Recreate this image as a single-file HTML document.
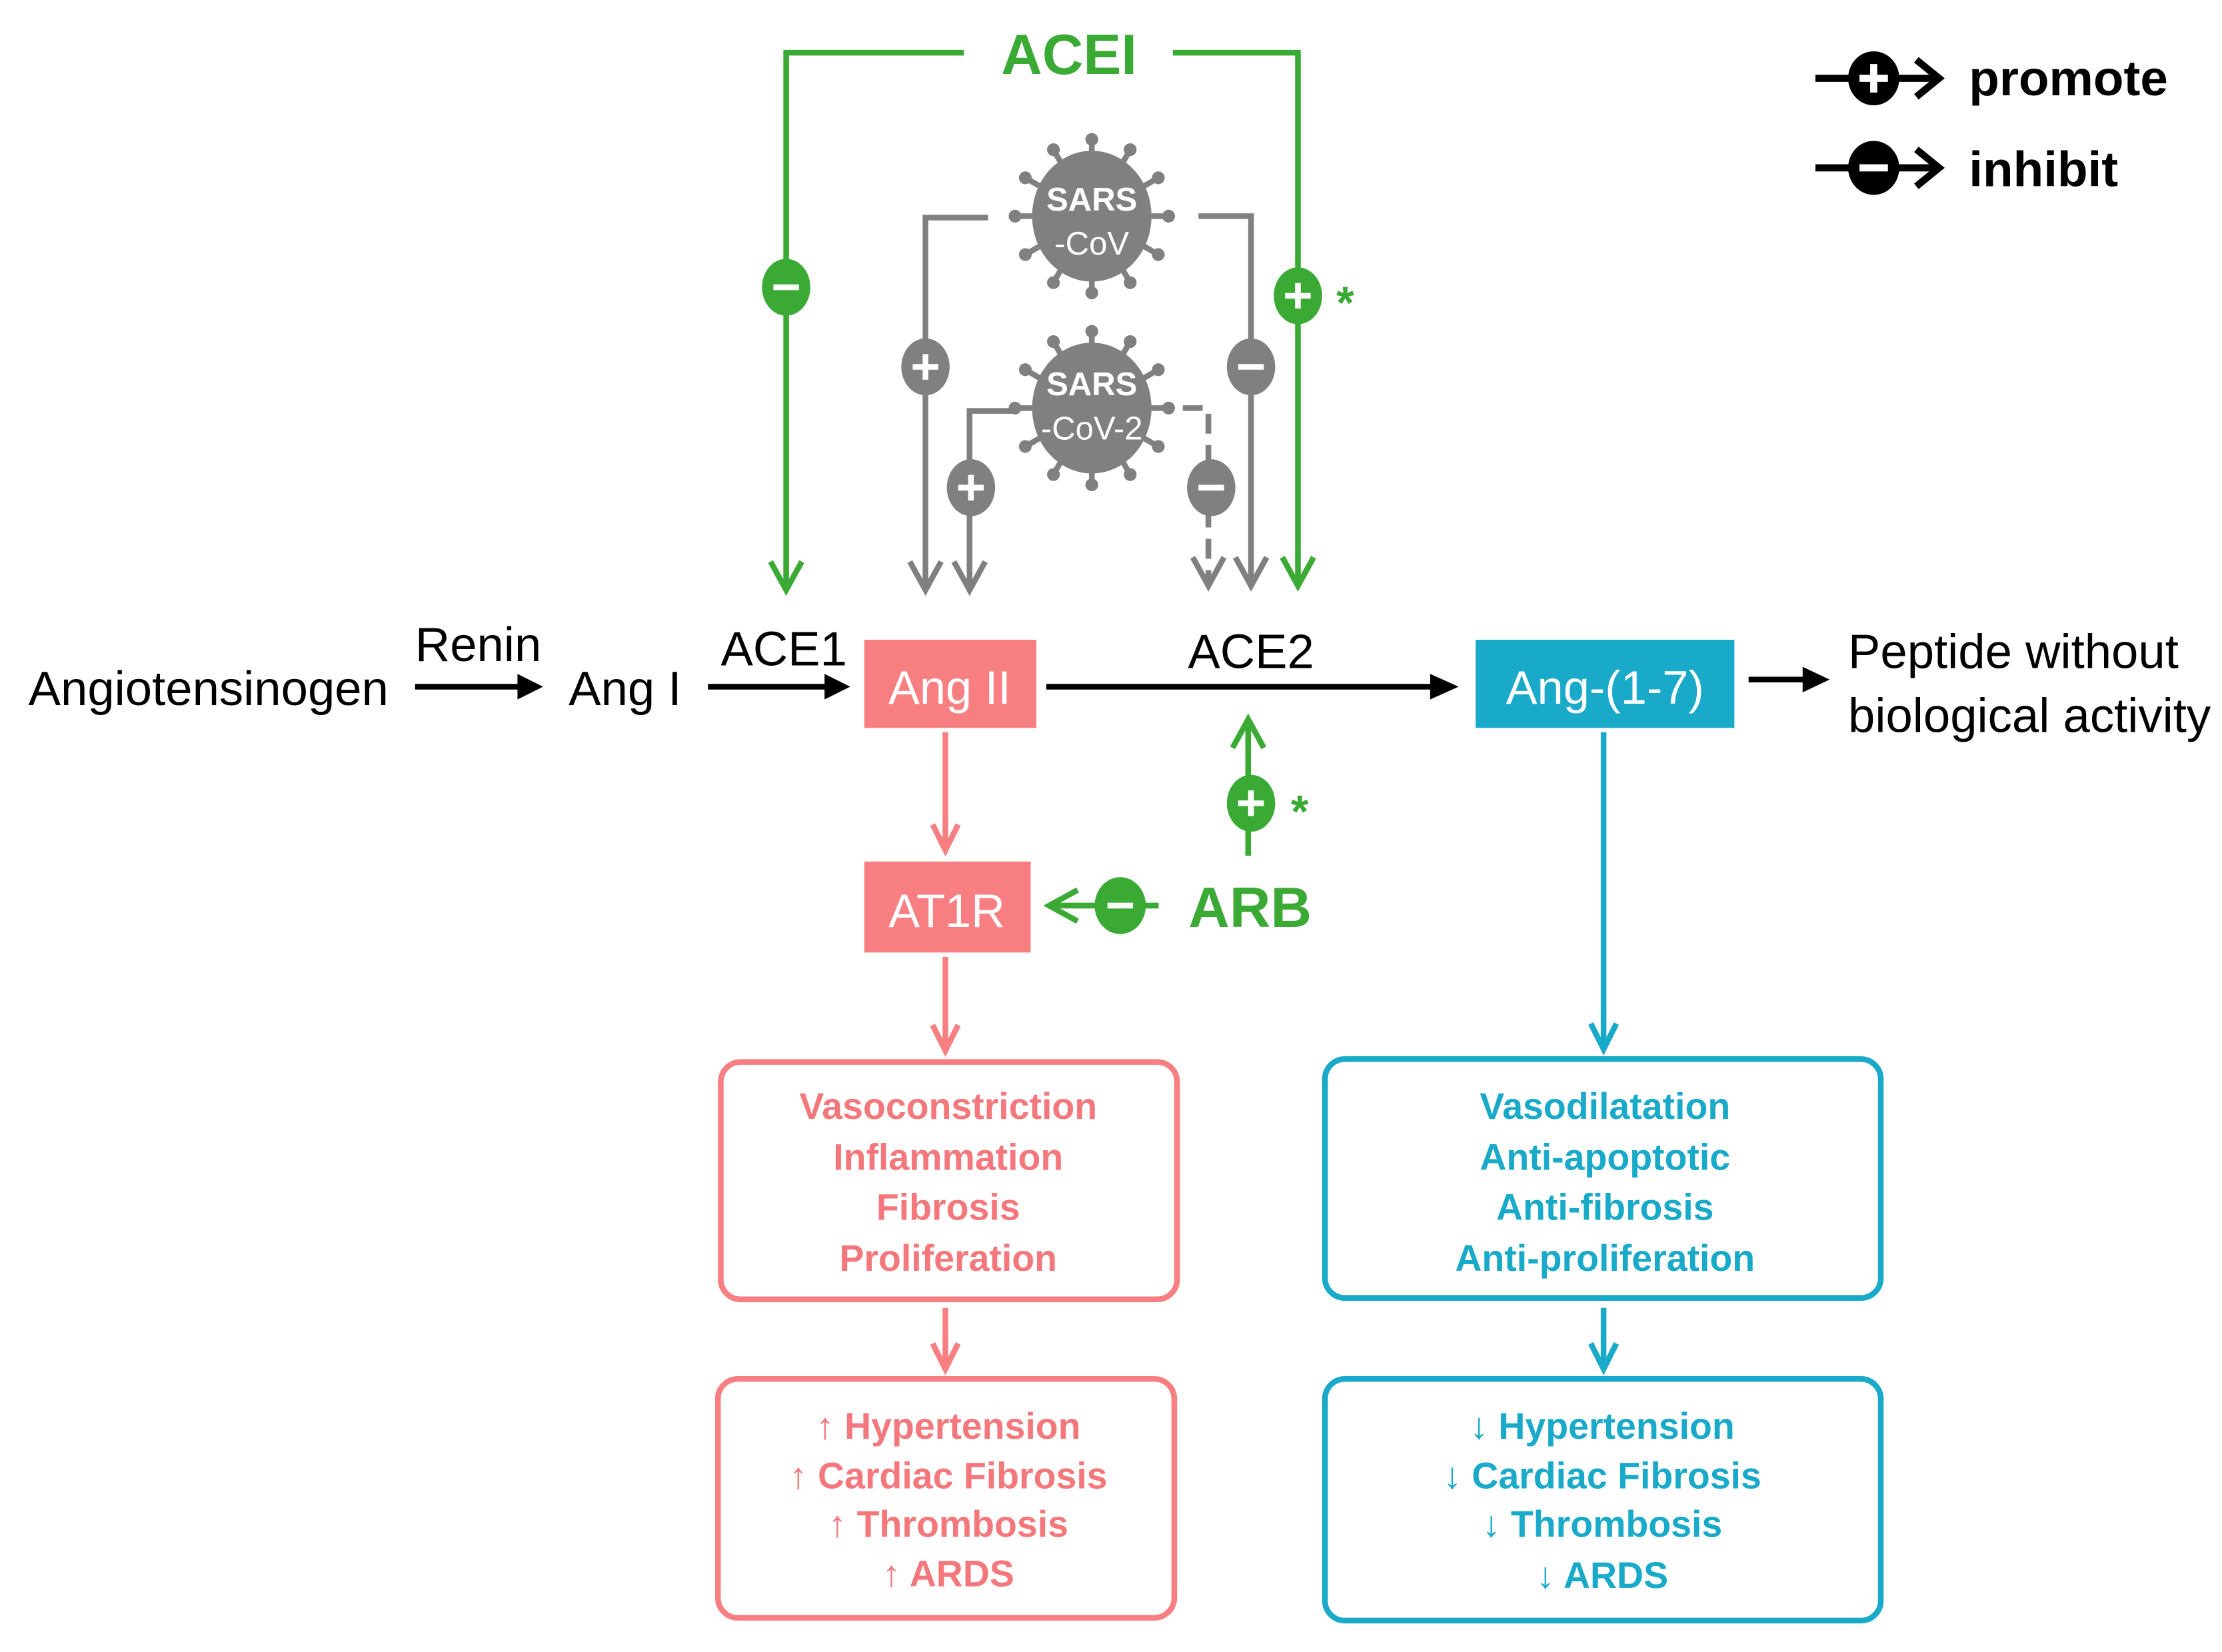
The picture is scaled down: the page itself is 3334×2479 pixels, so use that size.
<!DOCTYPE html>
<html><head><meta charset="utf-8"><style>
html,body{margin:0;padding:0;background:#fff;}
svg{display:block}
text{font-family:"Liberation Sans",Arial,sans-serif;}
</style></head><body>
<svg width="3334" height="2479" viewBox="0 0 1563 1162" xmlns="http://www.w3.org/2000/svg">
<defs>
<g id="spike"><line x1="0" y1="0" x2="0" y2="-54" stroke="#808080" stroke-width="4"/><circle cx="0" cy="-54" r="4.5" fill="#808080"/></g>
</defs>
<rect width="1563" height="1162" fill="#fff"/>

<!-- Legend -->
<g stroke="#000" stroke-width="5" fill="none">
<line x1="1277" y1="55" x2="1362" y2="55"/><polyline points="1348,42 1364,55 1348,68"/>
<line x1="1277" y1="118" x2="1362" y2="118"/><polyline points="1348,105 1364,118 1348,131"/>
</g>
<ellipse cx="1318" cy="55" rx="18" ry="19" fill="#000"/>
<line x1="1308" y1="55" x2="1328" y2="55" stroke="#fff" stroke-width="5"/><line x1="1318" y1="45" x2="1318" y2="65" stroke="#fff" stroke-width="5"/>
<ellipse cx="1318" cy="118" rx="18" ry="19" fill="#000"/>
<line x1="1308" y1="118" x2="1328" y2="118" stroke="#fff" stroke-width="5"/>
<text x="1385" y="67" font-size="35" font-weight="bold">promote</text>
<text x="1385" y="131" font-size="35" font-weight="bold">inhibit</text>

<!-- ACEI -->
<text x="752" y="52" font-size="40" font-weight="bold" fill="#3aaa35" text-anchor="middle">ACEI</text>
<g stroke="#3aaa35" stroke-width="4" fill="none">
<polyline points="678,37 553,37 553,413"/><polyline points="542,395 553,415 564,395"/>
<polyline points="825,37 913,37 913,410"/><polyline points="902,392 913,412 924,392"/>
<line x1="878" y1="602" x2="878" y2="508"/><polyline points="867,526 878,506 889,526"/>
<line x1="815" y1="637" x2="740" y2="637"/><polyline points="758,626 738,637 758,648"/>
</g>
<ellipse cx="553" cy="202" rx="17" ry="20" fill="#3aaa35"/><line x1="544" y1="202" x2="562" y2="202" stroke="#fff" stroke-width="4"/>
<ellipse cx="913" cy="208" rx="17" ry="20" fill="#3aaa35"/><line x1="904" y1="208" x2="922" y2="208" stroke="#fff" stroke-width="4"/><line x1="913" y1="199" x2="913" y2="217" stroke="#fff" stroke-width="4"/>
<text x="940" y="224" font-size="32" font-weight="bold" fill="#3aaa35">*</text>
<ellipse cx="880" cy="565" rx="17" ry="20" fill="#3aaa35"/><line x1="871" y1="565" x2="889" y2="565" stroke="#fff" stroke-width="4"/><line x1="880" y1="556" x2="880" y2="574" stroke="#fff" stroke-width="4"/>
<text x="908" y="582" font-size="32" font-weight="bold" fill="#3aaa35">*</text>
<ellipse cx="788" cy="637" rx="18" ry="20" fill="#3aaa35"/><line x1="779" y1="637" x2="797" y2="637" stroke="#fff" stroke-width="4"/>
<text x="836" y="652" font-size="40" font-weight="bold" fill="#3aaa35">ARB</text>

<!-- Gray virus paths -->
<g stroke="#808080" stroke-width="4" fill="none">
<polyline points="695,153 651,153 651,413"/><polyline points="640,395 651,415 662,395"/>
<polyline points="843,152 880,152 880,410"/><polyline points="869,392 880,412 891,392"/>
<polyline points="716,289 682,289 682,413"/><polyline points="671,395 682,415 693,395"/>
<polyline points="832,287 850,287 850,410" stroke-dasharray="14,8"/><polyline points="839,392 850,412 861,392"/>
</g>
<ellipse cx="651" cy="258" rx="17" ry="20" fill="#808080"/><line x1="642" y1="258" x2="660" y2="258" stroke="#fff" stroke-width="4"/><line x1="651" y1="249" x2="651" y2="267" stroke="#fff" stroke-width="4"/>
<ellipse cx="880" cy="258" rx="17" ry="20" fill="#808080"/><line x1="871" y1="258" x2="889" y2="258" stroke="#fff" stroke-width="4"/>
<ellipse cx="683" cy="343" rx="17" ry="20" fill="#808080"/><line x1="674" y1="343" x2="692" y2="343" stroke="#fff" stroke-width="4"/><line x1="683" y1="334" x2="683" y2="352" stroke="#fff" stroke-width="4"/>
<ellipse cx="852" cy="343" rx="17" ry="20" fill="#808080"/><line x1="843" y1="343" x2="861" y2="343" stroke="#fff" stroke-width="4"/>

<!-- viruses -->
<g transform="translate(768,152)">
<use href="#spike" transform="rotate(0)"/><use href="#spike" transform="rotate(30)"/><use href="#spike" transform="rotate(60)"/><use href="#spike" transform="rotate(90)"/><use href="#spike" transform="rotate(120)"/><use href="#spike" transform="rotate(150)"/><use href="#spike" transform="rotate(180)"/><use href="#spike" transform="rotate(210)"/><use href="#spike" transform="rotate(240)"/><use href="#spike" transform="rotate(270)"/><use href="#spike" transform="rotate(300)"/><use href="#spike" transform="rotate(330)"/>
<ellipse cx="0" cy="0" rx="42" ry="46" fill="#808080"/>
<text x="0" y="-4" font-size="23" font-weight="bold" fill="#fff" text-anchor="middle">SARS</text>
<text x="0" y="27" font-size="23" fill="#fff" text-anchor="middle">-CoV</text>
</g>
<g transform="translate(768,287)">
<use href="#spike" transform="rotate(0)"/><use href="#spike" transform="rotate(30)"/><use href="#spike" transform="rotate(60)"/><use href="#spike" transform="rotate(90)"/><use href="#spike" transform="rotate(120)"/><use href="#spike" transform="rotate(150)"/><use href="#spike" transform="rotate(180)"/><use href="#spike" transform="rotate(210)"/><use href="#spike" transform="rotate(240)"/><use href="#spike" transform="rotate(270)"/><use href="#spike" transform="rotate(300)"/><use href="#spike" transform="rotate(330)"/>
<ellipse cx="0" cy="0" rx="42" ry="46" fill="#808080"/>
<text x="0" y="-9" font-size="23" font-weight="bold" fill="#fff" text-anchor="middle">SARS</text>
<text x="0" y="22" font-size="23" fill="#fff" text-anchor="middle">-CoV-2</text>
</g>

<!-- Main row -->
<g font-size="34" fill="#000">
<text x="20" y="496">Angiotensinogen</text>
<text x="292" y="465">Renin</text>
<text x="400" y="496">Ang I</text>
<text x="507" y="468">ACE1</text>
<text x="880" y="470" text-anchor="middle">ACE2</text>
<text x="1300" y="470">Peptide without</text>
<text x="1300" y="515">biological activity</text>
</g>
<g stroke="#000" stroke-width="4">
<line x1="292" y1="483" x2="366" y2="483"/><line x1="498" y1="483" x2="582" y2="483"/>
<line x1="736" y1="483" x2="1008" y2="483"/><line x1="1230" y1="478" x2="1270" y2="478"/>
</g>
<g fill="#000">
<polygon points="364,474 382,483 364,492"/><polygon points="580,474 598,483 580,492"/>
<polygon points="1006,474 1026,483 1006,492"/><polygon points="1268,469 1287,478 1268,487"/>
</g>
<rect x="608" y="450" width="121" height="62" fill="#f77f82"/>
<text x="668" y="495" font-size="33" fill="#fff" text-anchor="middle">Ang II</text>
<rect x="1038" y="450" width="182" height="62" fill="#19a9c9"/>
<text x="1129" y="495" font-size="33" fill="#fff" text-anchor="middle">Ang-(1-7)</text>
<rect x="608" y="606" width="117" height="64" fill="#f77f82"/>
<text x="666" y="652" font-size="33" fill="#fff" text-anchor="middle">AT1R</text>

<!-- pink flow -->
<g stroke="#f77f82" stroke-width="4" fill="none">
<line x1="665" y1="515" x2="665" y2="597"/><polyline points="656,580 665,598 674,580"/>
<line x1="665" y1="673" x2="665" y2="738"/><polyline points="656,721 665,739 674,721"/>
<line x1="665" y1="920" x2="665" y2="962"/><polyline points="656,945 665,963 674,945"/>
<rect x="507" y="747" width="321" height="167" rx="14"/>
<rect x="505" y="970" width="321" height="168" rx="14"/>
</g>
<g font-size="26" font-weight="bold" fill="#f4777b" text-anchor="middle">
<text x="667" y="787">Vasoconstriction</text>
<text x="667" y="823">Inflammation</text>
<text x="667" y="858">Fibrosis</text>
<text x="667" y="894">Proliferation</text>
<text x="667" y="1012">↑ Hypertension</text>
<text x="667" y="1047">↑ Cardiac Fibrosis</text>
<text x="667" y="1081">↑ Thrombosis</text>
<text x="667" y="1116">↑ ARDS</text>
</g>

<!-- cyan flow -->
<g stroke="#19a9c9" stroke-width="4" fill="none">
<line x1="1128" y1="515" x2="1128" y2="737"/><polyline points="1119,720 1128,738 1137,720"/>
<line x1="1128" y1="920" x2="1128" y2="962"/><polyline points="1119,945 1128,963 1137,945"/>
<rect x="932" y="745" width="391" height="168" rx="14"/>
<rect x="932" y="970" width="391" height="170" rx="14"/>
</g>
<g font-size="26" font-weight="bold" fill="#19a9c9" text-anchor="middle">
<text x="1129" y="787">Vasodilatation</text>
<text x="1129" y="823">Anti-apoptotic</text>
<text x="1129" y="858">Anti-fibrosis</text>
<text x="1129" y="894">Anti-proliferation</text>
<text x="1127" y="1012">↓ Hypertension</text>
<text x="1127" y="1047">↓ Cardiac Fibrosis</text>
<text x="1127" y="1081">↓ Thrombosis</text>
<text x="1127" y="1117">↓ ARDS</text>
</g>
</svg>
</body></html>
